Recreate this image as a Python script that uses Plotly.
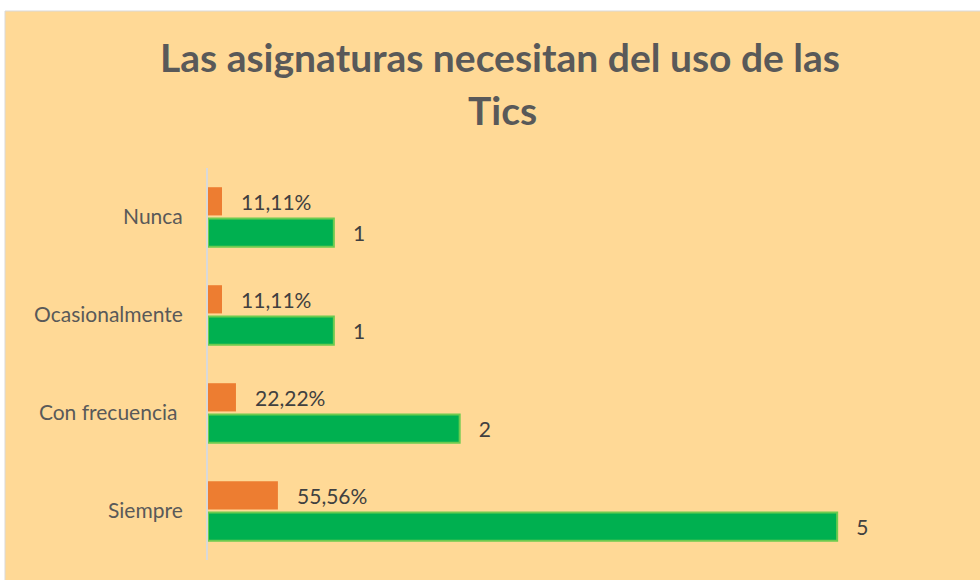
import plotly.graph_objects as go

categories = ["Siempre", "Con frecuencia ", "Ocasionalmente", "Nunca"]
counts = [5, 2, 1, 1]
shares = [0.5556, 0.2222, 0.1111, 0.1111]
title_line1 = "Las asignaturas necesitan del uso de las"
title_line2 = "Tics"

count_labels = ["   " + str(v) for v in counts]
share_labels = ["   " + f"{v*100:.2f}%".replace(".", ",") for v in shares]

FONT = "Lato, 'Open Sans', sans-serif"
fig = go.Figure()
fig.add_trace(go.Bar(
    y=categories, x=counts, orientation="h", name="Frecuencia",
    marker=dict(color="#00B050", line=dict(color="#6CCB4F", width=2)),
    text=count_labels, textposition="outside", cliponaxis=False,
    textfont=dict(size=21, color="#404040", family=FONT),
))
fig.add_trace(go.Bar(
    y=categories, x=shares, orientation="h", name="Porcentaje",
    marker=dict(color="#ED7D31", line=dict(width=0)),
    text=share_labels, textposition="outside", cliponaxis=False,
    textfont=dict(size=21, color="#404040", family=FONT),
))

L, R, T, B = 208, 17, 168, 20
W, H = 980, 580
pw, ph = W - L - R, H - T - B

def px_x(p):
    return (p - L) / pw

def px_y(p):
    return (H - B - p) / ph

fig.update_layout(
    width=W, height=H,
    margin=dict(l=L, r=R, t=T, b=B, pad=0),
    paper_bgcolor="white",
    plot_bgcolor="rgba(0,0,0,0)",
    barmode="group", bargap=0.36, bargroupgap=0.1,
    showlegend=False,
    title=dict(text=title_line1, x=500 / W, xanchor="center", y=1 - 72 / H, yanchor="bottom",
               xref="container", yref="container",
               font=dict(family=FONT, size=39, color="#595959", weight="bold")),
    annotations=[dict(text=title_line2, xref="paper", yref="paper",
                      x=px_x(502), y=px_y(135), xanchor="center", yanchor="bottom",
                      showarrow=False,
                      font=dict(family=FONT, size=39, color="#595959", weight="bold"))],
    xaxis=dict(range=[0, 6], visible=False, showgrid=False, zeroline=False),
    yaxis=dict(showline=True, linecolor="#D9D9D9", linewidth=2, ticks="",
               ticklabelstandoff=19, showgrid=False,
               tickfont=dict(family=FONT, size=21, color="#595959")),
    shapes=[dict(type="rect", xref="paper", yref="paper", layer="below",
                 x0=px_x(5), x1=px_x(985), y0=px_y(585), y1=px_y(11),
                 fillcolor="#FFD996", line=dict(color="#D9D9D9", width=1))],
)
fig.write_html("out.html", config={"displayModeBar": False},
               post_script="document.body.style.margin='0';document.body.style.overflow='hidden';")
